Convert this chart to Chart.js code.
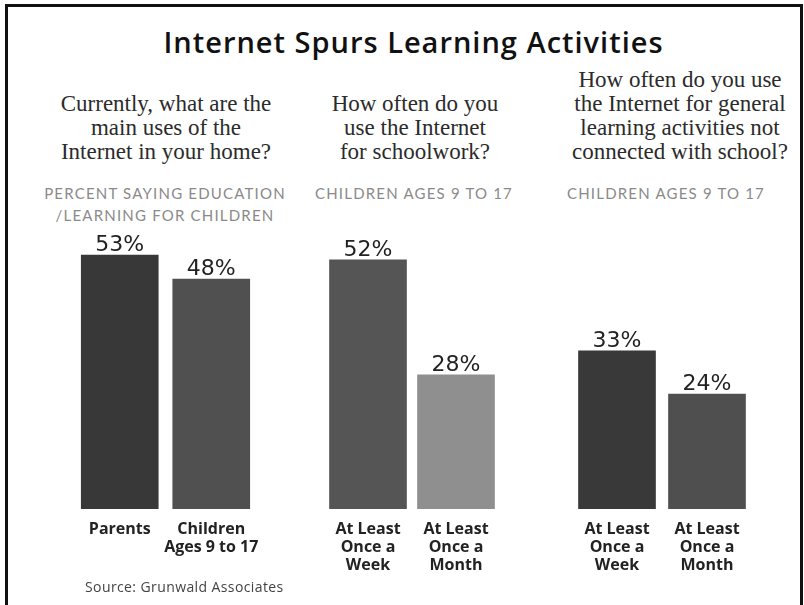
<!DOCTYPE html>
<html>
<head>
<meta charset="utf-8">
<script src="https://cdn.jsdelivr.net/npm/chart.js@4.4.1/dist/chart.umd.min.js"></script>
<style>
  html, body { margin: 0; padding: 0; background: #fff; }
  body { width: 804px; height: 605px; position: relative; overflow: hidden; }
  .frame { position: absolute; left: 5px; top: 4px; width: 792px; height: 700px; border: 3px solid #111; }
  .title { position: absolute; left: 0; width: 827px; top: 24px; text-align: center;
           font: 600 29px/36px "Open Sans", sans-serif; letter-spacing: 1px; color: #111; }
  .q { position: absolute; bottom: 441px; text-align: center;
       font: 23px/24px "Liberation Serif", serif; color: #2b2b2b; }
  .sub { position: absolute; top: 182px; text-align: center;
         font: 15px/22px Lato, sans-serif; letter-spacing: 1.2px; color: #8a8a8a; }
  canvas { position: absolute; top: 30px; }
  .source { position: absolute; left: 85px; top: 578px; font: 14px/18px "Open Sans", sans-serif;
            letter-spacing: 0.4px; color: #444; }
</style>
</head>
<body>
<div class="frame"></div>
<div class="title">Internet Spurs Learning Activities</div>

<div class="q" style="left:36px;width:260px">Currently, what are the<br>main uses of the<br>Internet in your home?</div>
<div class="q" style="left:285px;width:260px">How often do you<br>use the Internet<br>for schoolwork?</div>
<div class="q" style="left:560px;width:240px">How often do you use<br>the Internet for general<br>learning activities not<br>connected with school?</div>

<div class="sub" style="left:25px;width:280px">PERCENT SAYING EDUCATION<br>/LEARNING FOR CHILDREN</div>
<div class="sub" style="left:274px;width:280px">CHILDREN AGES 9 TO 17</div>
<div class="sub" style="left:526px;width:280px">CHILDREN AGES 9 TO 17</div>

<canvas id="chartHome" width="223" height="559" style="left:54px"></canvas>
<canvas id="chartSchool" width="216" height="559" style="left:304px"></canvas>
<canvas id="chartGeneral" width="220" height="559" style="left:552px"></canvas>

<div class="source">Source: Grunwald Associates</div>

<script>
// data
const homeLabels = [['Parents'], ['Children', 'Ages 9 to 17']];
const homeValues = [53, 48];

const schoolLabels = [['At Least', 'Once a', 'Week'], ['At Least', 'Once a', 'Month']];
const schoolValues = [52, 28];

const generalLabels = [['At Least', 'Once a', 'Week'], ['At Least', 'Once a', 'Month']];
const generalValues = [33, 24];

// bar shades, per chart
const homeColors = ['#383838', '#505050'];
const schoolColors = ['#555555', '#8f8f8f'];
const generalColors = ['#393939', '#4f4f4f'];

// draws "53%" etc. above each bar
const valueLabels = {
    id: 'valueLabels',
    afterDatasetsDraw(chart) {
        const ctx = chart.ctx;
        const values = chart.data.datasets[0].data;
        ctx.save();
        ctx.font = '22px "DejaVu Sans"';
        ctx.fillStyle = '#222';
        ctx.textAlign = 'center';
        ctx.textBaseline = 'alphabetic';
        chart.getDatasetMeta(0).data.forEach((bar, i) => {
            ctx.fillText(values[i] + '%', bar.x, bar.y - 4);
        });
        ctx.restore();
    }
};

function makeChart(id, labels, values, colors) {
    new Chart(document.getElementById(id), {
        type: 'bar',
        data: {
            labels: labels,
            datasets: [{
                data: values,
                backgroundColor: colors,
                barThickness: 77
            }]
        },
        options: {
            responsive: false,
            animation: false,
            layout: { padding: { left: 20, right: 20, top: 0, bottom: 0 } },
            plugins: { legend: { display: false }, tooltip: { enabled: false } },
            scales: {
                x: {
                    offset: true,
                    grid: { display: false, drawTicks: false },
                    border: { display: false },
                    ticks: {
                        color: '#222',
                        padding: 11,
                        autoSkip: false,
                        maxRotation: 0,
                        font: { family: 'Open Sans', weight: 'bold', size: 16, lineHeight: '18px' }
                    },
                    afterFit: scale => { scale.height = 80; }
                },
                y: { display: false, min: 0, max: 100 }
            }
        },
        plugins: [valueLabels]
    });
}

makeChart('chartHome', homeLabels, homeValues, homeColors);
makeChart('chartSchool', schoolLabels, schoolValues, schoolColors);
makeChart('chartGeneral', generalLabels, generalValues, generalColors);
</script>
</body>
</html>
